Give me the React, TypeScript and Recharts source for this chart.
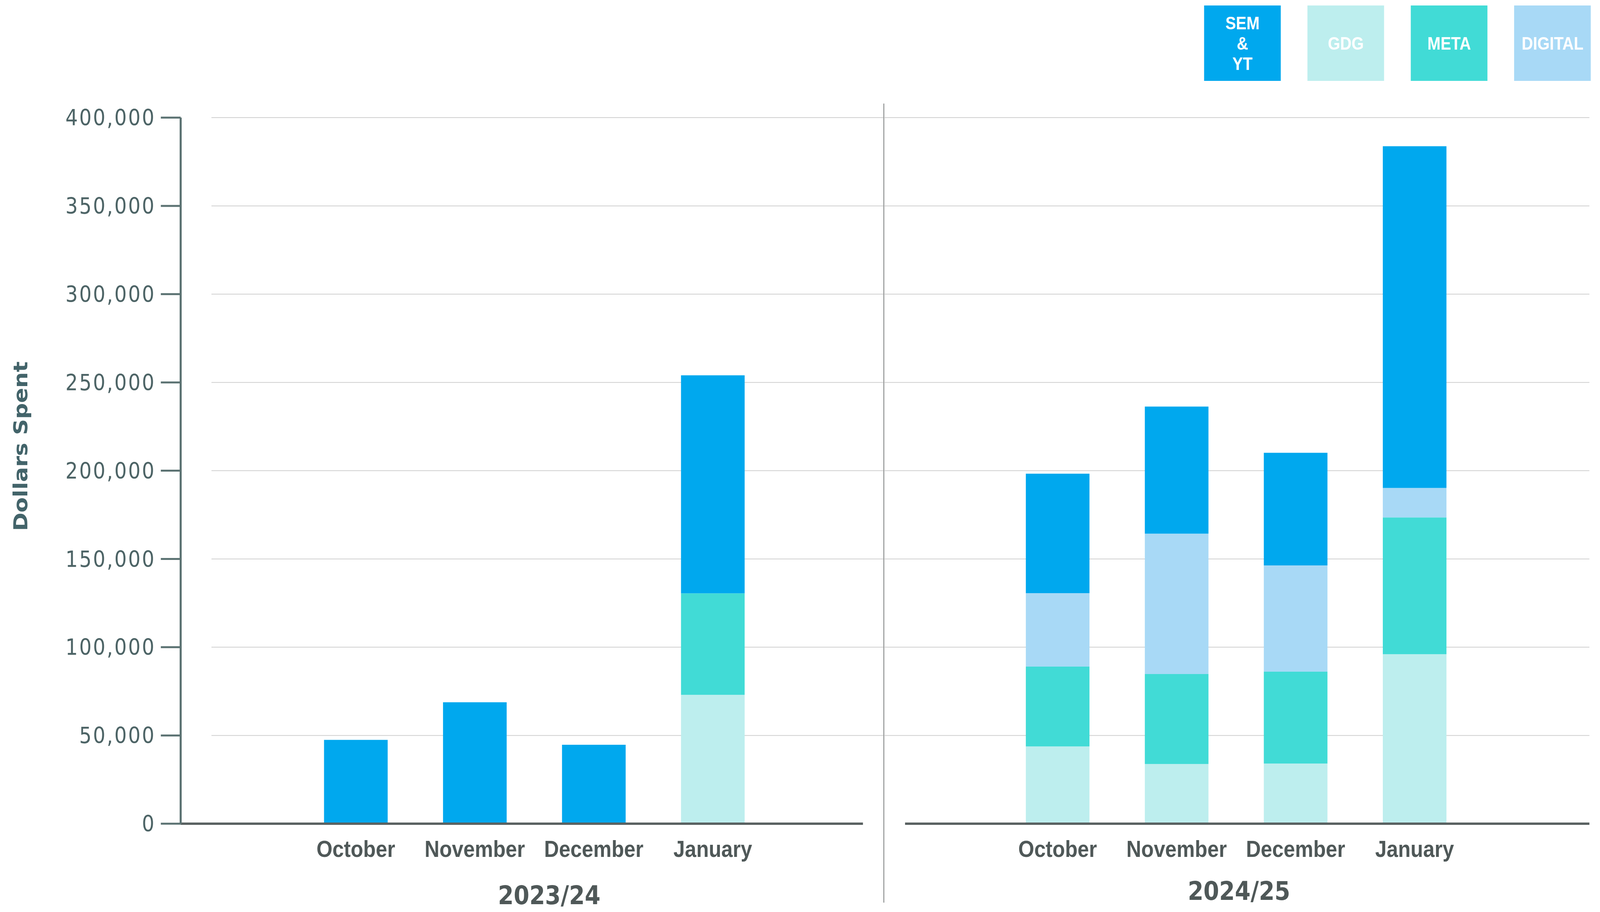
import React from 'react';
import { BarChart, Bar, XAxis, YAxis, CartesianGrid, Legend } from 'recharts';

// ---------- data ----------
const months = ['October', 'November', 'December', 'January'];
const seasons = ['2023/24', '2024/25'];
const yTicks = [0, 50000, 100000, 150000, 200000, 250000, 300000, 350000, 400000];

const gdg2324 = [0, 0, 0, 73000];
const meta2324 = [0, 0, 0, 57500];
const digital2324 = [0, 0, 0, 0];
const sem2324 = [47500, 68800, 44700, 123500];

const gdg2425 = [43800, 33800, 34100, 96000];
const meta2425 = [45200, 51000, 52000, 77500];
const digital2425 = [41600, 79500, 60200, 16700];
const sem2425 = [67700, 72000, 63800, 193600];

const stackKeys = ['gdg', 'meta', 'digital', 'sem'];
const legendKeys = ['sem', 'gdg', 'meta', 'digital'];
const legendLines: Record<string, string[]> = {
  sem: ['SEM', '&', 'YT'],
  gdg: ['GDG'],
  meta: ['META'],
  digital: ['DIGITAL'],
};
const seriesNames: Record<string, string> = { sem: 'SEM & YT', gdg: 'GDG', meta: 'META', digital: 'DIGITAL' };

const colors: Record<string, string> = {
  sem: '#00a8ee',
  gdg: '#bdeeee',
  meta: '#41dbd6',
  digital: '#a8d9f6',
};

const data2324 = months.map((m, i) => ({
  month: m, gdg: gdg2324[i], meta: meta2324[i], digital: digital2324[i], sem: sem2324[i],
}));
const data2425 = months.map((m, i) => ({
  month: m, gdg: gdg2425[i], meta: meta2425[i], digital: digital2425[i], sem: sem2425[i],
}));

// ---------- layout (designed on a 4676 x 2334 canvas) ----------
const W = 4676;
const H = 2334;
const SPLIT = 2583;
const PLOT_TOP = 301;
const XAXIS_H = 226;
const PLOT_BOTTOM = H - XAXIS_H;
const BAR = 186;

const tickColor = '#4d6466';
const axisColor = '#5b7272';
const baseColor = '#5a6262';
const gridColor = '#cfcfcf';
const textDark = '#4f5858';

const fmt = (v: number) => v.toLocaleString('en-US');

const gridLeft = (p: any) => {
  if (Math.abs(p.y1 - PLOT_BOTTOM) < 2) return <g key={p.key} />;
  return <line key={p.key} x1={618} x2={SPLIT} y1={p.y1} y2={p.y2} stroke={gridColor} strokeWidth={2} />;
};
const gridRight = (p: any) => {
  if (Math.abs(p.y1 - PLOT_BOTTOM) < 2) return <g key={p.key} />;
  return <line key={p.key} x1={0} x2={p.x2} y1={p.y1} y2={p.y2} stroke={gridColor} strokeWidth={2} />;
};

const YLabel = () => (
  <text
    x={80}
    y={1142}
    transform="rotate(-90, 80, 1142)"
    textAnchor="middle"
    fill="#43646a"
    fontSize={57}
    fontWeight={700}
    fontFamily="DejaVu Sans"
  >
    Dollars Spent
  </text>
);

const renderLegend = () => (
  <div style={{ height: 287, display: 'flex', justifyContent: 'flex-end', alignItems: 'flex-start', gap: 78, marginRight: -4 }}>
    {legendKeys.map((k) => (
      <div
        key={k}
        title={seriesNames[k]}
        style={{
          width: 224,
          height: 193,
          background: colors[k],
          display: 'flex',
          flexDirection: 'column',
          alignItems: 'center',
          justifyContent: 'center',
          color: '#ffffff',
          fontFamily: 'Liberation Sans, Arial, sans-serif',
          fontWeight: 700,
          fontSize: 46,
          lineHeight: '52px',
        }}
      >
        {legendLines[k].map((t, i) => (
          <div key={i}>{t}</div>
        ))}
      </div>
    ))}
  </div>
);

const monthTick = { fill: textDark, fontSize: 60, fontWeight: 700, fontFamily: 'Liberation Sans' };

export default function App() {
  const vw = typeof window !== 'undefined' ? window.innerWidth : W;
  const sx = vw > 0 && vw < W ? vw / W : 1;
  React.useEffect(() => {
    document.body.style.overflow = 'hidden';
  }, []);
  return (
    <div
      style={{
        position: 'absolute',
        left: 0,
        top: 0,
        width: W,
        height: H,
        background: '#ffffff',
        overflow: 'hidden',
        transform: `scaleX(${sx})`,
        transformOrigin: '0 0',
      }}
    >
      <div style={{ position: 'absolute', left: 0, top: 0 }}>
        <BarChart
          width={SPLIT}
          height={H}
          data={data2324}
          margin={{ top: PLOT_TOP, right: 61, bottom: 0, left: 0 }}
          barSize={BAR}
        >
          <CartesianGrid vertical={false} horizontal={gridLeft} />
          <XAxis
            dataKey="month"
            height={XAXIS_H}
            padding={{ left: 338, right: 265 }}
            axisLine={{ stroke: baseColor, strokeWidth: 6 }}
            tickLine={false}
            tickSize={0}
            tickMargin={42}
            interval={0}
            tick={monthTick}
            label={{
              value: seasons[0],
              position: 'insideBottom',
              offset: 20,
              dx: 80,
              fill: textDark,
              fontSize: 66,
              fontWeight: 700,
              fontFamily: 'DejaVu Sans',
            }}
          />
          <YAxis
            width={528}
            domain={[0, 400000]}
            ticks={yTicks}
            interval={0}
            tickFormatter={fmt}
            axisLine={{ stroke: axisColor, strokeWidth: 6 }}
            tickLine={{ stroke: axisColor, strokeWidth: 5 }}
            tickSize={58}
            tickMargin={15}
            tick={{ fill: tickColor, fontSize: 57, fontFamily: 'DejaVu Sans', letterSpacing: 4 }}
            label={{ content: () => <YLabel /> }}
          />
          {stackKeys.map((k) => (
            <Bar key={k} dataKey={k} name={seriesNames[k]} stackId="s" fill={colors[k]} isAnimationActive={false} />
          ))}
        </BarChart>
      </div>

      <div style={{ position: 'absolute', left: SPLIT - 1, top: 265, width: 2, height: 2045, background: '#666a6a' }} />

      <div style={{ position: 'absolute', left: SPLIT, top: 0 }}>
        <BarChart
          width={W - SPLIT}
          height={H}
          data={data2425}
          margin={{ top: 14, right: 31, bottom: 0, left: 62 }}
          barSize={BAR}
        >
          <CartesianGrid vertical={false} horizontal={gridRight} />
          <Legend verticalAlign="top" align="right" content={renderLegend} />
          <XAxis
            dataKey="month"
            height={XAXIS_H}
            padding={{ left: 272, right: 337 }}
            axisLine={{ stroke: baseColor, strokeWidth: 6 }}
            tickLine={false}
            tickSize={0}
            tickMargin={42}
            interval={0}
            tick={monthTick}
            label={{
              value: seasons[1],
              position: 'insideBottom',
              offset: 31,
              dx: -24,
              fill: textDark,
              fontSize: 66,
              fontWeight: 700,
              fontFamily: 'DejaVu Sans',
            }}
          />
          <YAxis hide domain={[0, 400000]} ticks={yTicks} interval={0} />
          {stackKeys.map((k) => (
            <Bar key={k} dataKey={k} name={seriesNames[k]} stackId="s" fill={colors[k]} isAnimationActive={false} />
          ))}
        </BarChart>
      </div>
    </div>
  );
}
